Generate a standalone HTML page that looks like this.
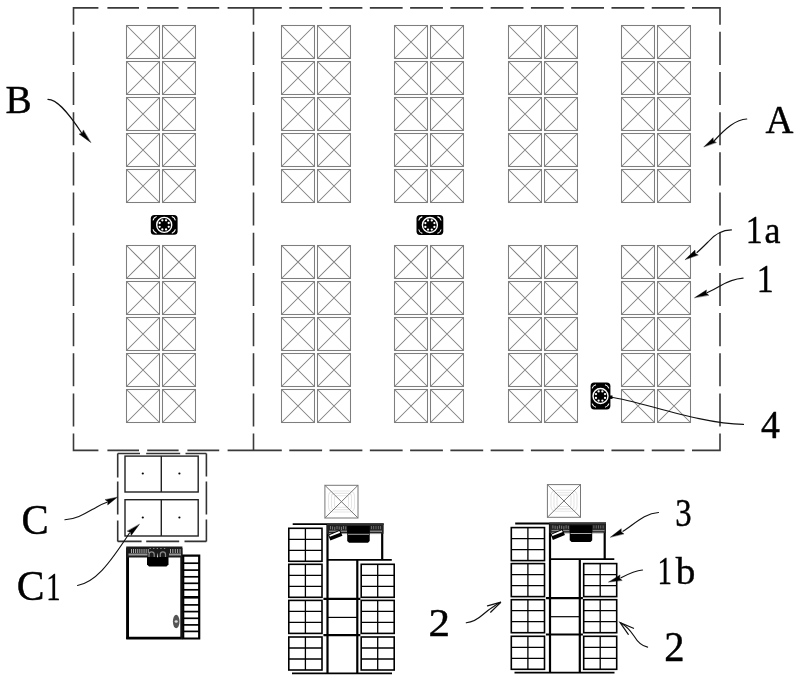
<!DOCTYPE html>
<html><head><meta charset="utf-8"><style>
html,body{margin:0;padding:0;background:#fff;}
body{width:800px;height:681px;overflow:hidden;font-family:"Liberation Serif",serif;}
svg{display:block;}
</style></head><body>
<svg width="800" height="681" viewBox="0 0 800 681">
<g fill="none" stroke="#7e7e7e" stroke-width="1.05">
<rect x="126.50" y="25.50" width="33" height="33"/>
<path d="M126.50 25.50L159.50 58.50M159.50 25.50L126.50 58.50"/>
<rect x="162.50" y="25.50" width="33" height="33"/>
<path d="M162.50 25.50L195.50 58.50M195.50 25.50L162.50 58.50"/>
<rect x="126.50" y="61.50" width="33" height="33"/>
<path d="M126.50 61.50L159.50 94.50M159.50 61.50L126.50 94.50"/>
<rect x="162.50" y="61.50" width="33" height="33"/>
<path d="M162.50 61.50L195.50 94.50M195.50 61.50L162.50 94.50"/>
<rect x="126.50" y="97.50" width="33" height="33"/>
<path d="M126.50 97.50L159.50 130.50M159.50 97.50L126.50 130.50"/>
<rect x="162.50" y="97.50" width="33" height="33"/>
<path d="M162.50 97.50L195.50 130.50M195.50 97.50L162.50 130.50"/>
<rect x="126.50" y="133.50" width="33" height="33"/>
<path d="M126.50 133.50L159.50 166.50M159.50 133.50L126.50 166.50"/>
<rect x="162.50" y="133.50" width="33" height="33"/>
<path d="M162.50 133.50L195.50 166.50M195.50 133.50L162.50 166.50"/>
<rect x="126.50" y="169.50" width="33" height="33"/>
<path d="M126.50 169.50L159.50 202.50M159.50 169.50L126.50 202.50"/>
<rect x="162.50" y="169.50" width="33" height="33"/>
<path d="M162.50 169.50L195.50 202.50M195.50 169.50L162.50 202.50"/>
<rect x="126.50" y="245.50" width="33" height="33"/>
<path d="M126.50 245.50L159.50 278.50M159.50 245.50L126.50 278.50"/>
<rect x="162.50" y="245.50" width="33" height="33"/>
<path d="M162.50 245.50L195.50 278.50M195.50 245.50L162.50 278.50"/>
<rect x="126.50" y="281.50" width="33" height="33"/>
<path d="M126.50 281.50L159.50 314.50M159.50 281.50L126.50 314.50"/>
<rect x="162.50" y="281.50" width="33" height="33"/>
<path d="M162.50 281.50L195.50 314.50M195.50 281.50L162.50 314.50"/>
<rect x="126.50" y="317.50" width="33" height="33"/>
<path d="M126.50 317.50L159.50 350.50M159.50 317.50L126.50 350.50"/>
<rect x="162.50" y="317.50" width="33" height="33"/>
<path d="M162.50 317.50L195.50 350.50M195.50 317.50L162.50 350.50"/>
<rect x="126.50" y="353.50" width="33" height="33"/>
<path d="M126.50 353.50L159.50 386.50M159.50 353.50L126.50 386.50"/>
<rect x="162.50" y="353.50" width="33" height="33"/>
<path d="M162.50 353.50L195.50 386.50M195.50 353.50L162.50 386.50"/>
<rect x="126.50" y="389.50" width="33" height="33"/>
<path d="M126.50 389.50L159.50 422.50M159.50 389.50L126.50 422.50"/>
<rect x="162.50" y="389.50" width="33" height="33"/>
<path d="M162.50 389.50L195.50 422.50M195.50 389.50L162.50 422.50"/>
<rect x="281.50" y="25.50" width="33" height="33"/>
<path d="M281.50 25.50L314.50 58.50M314.50 25.50L281.50 58.50"/>
<rect x="317.50" y="25.50" width="33" height="33"/>
<path d="M317.50 25.50L350.50 58.50M350.50 25.50L317.50 58.50"/>
<rect x="281.50" y="61.50" width="33" height="33"/>
<path d="M281.50 61.50L314.50 94.50M314.50 61.50L281.50 94.50"/>
<rect x="317.50" y="61.50" width="33" height="33"/>
<path d="M317.50 61.50L350.50 94.50M350.50 61.50L317.50 94.50"/>
<rect x="281.50" y="97.50" width="33" height="33"/>
<path d="M281.50 97.50L314.50 130.50M314.50 97.50L281.50 130.50"/>
<rect x="317.50" y="97.50" width="33" height="33"/>
<path d="M317.50 97.50L350.50 130.50M350.50 97.50L317.50 130.50"/>
<rect x="281.50" y="133.50" width="33" height="33"/>
<path d="M281.50 133.50L314.50 166.50M314.50 133.50L281.50 166.50"/>
<rect x="317.50" y="133.50" width="33" height="33"/>
<path d="M317.50 133.50L350.50 166.50M350.50 133.50L317.50 166.50"/>
<rect x="281.50" y="169.50" width="33" height="33"/>
<path d="M281.50 169.50L314.50 202.50M314.50 169.50L281.50 202.50"/>
<rect x="317.50" y="169.50" width="33" height="33"/>
<path d="M317.50 169.50L350.50 202.50M350.50 169.50L317.50 202.50"/>
<rect x="281.50" y="245.50" width="33" height="33"/>
<path d="M281.50 245.50L314.50 278.50M314.50 245.50L281.50 278.50"/>
<rect x="317.50" y="245.50" width="33" height="33"/>
<path d="M317.50 245.50L350.50 278.50M350.50 245.50L317.50 278.50"/>
<rect x="281.50" y="281.50" width="33" height="33"/>
<path d="M281.50 281.50L314.50 314.50M314.50 281.50L281.50 314.50"/>
<rect x="317.50" y="281.50" width="33" height="33"/>
<path d="M317.50 281.50L350.50 314.50M350.50 281.50L317.50 314.50"/>
<rect x="281.50" y="317.50" width="33" height="33"/>
<path d="M281.50 317.50L314.50 350.50M314.50 317.50L281.50 350.50"/>
<rect x="317.50" y="317.50" width="33" height="33"/>
<path d="M317.50 317.50L350.50 350.50M350.50 317.50L317.50 350.50"/>
<rect x="281.50" y="353.50" width="33" height="33"/>
<path d="M281.50 353.50L314.50 386.50M314.50 353.50L281.50 386.50"/>
<rect x="317.50" y="353.50" width="33" height="33"/>
<path d="M317.50 353.50L350.50 386.50M350.50 353.50L317.50 386.50"/>
<rect x="281.50" y="389.50" width="33" height="33"/>
<path d="M281.50 389.50L314.50 422.50M314.50 389.50L281.50 422.50"/>
<rect x="317.50" y="389.50" width="33" height="33"/>
<path d="M317.50 389.50L350.50 422.50M350.50 389.50L317.50 422.50"/>
<rect x="394.50" y="25.50" width="33" height="33"/>
<path d="M394.50 25.50L427.50 58.50M427.50 25.50L394.50 58.50"/>
<rect x="430.50" y="25.50" width="33" height="33"/>
<path d="M430.50 25.50L463.50 58.50M463.50 25.50L430.50 58.50"/>
<rect x="394.50" y="61.50" width="33" height="33"/>
<path d="M394.50 61.50L427.50 94.50M427.50 61.50L394.50 94.50"/>
<rect x="430.50" y="61.50" width="33" height="33"/>
<path d="M430.50 61.50L463.50 94.50M463.50 61.50L430.50 94.50"/>
<rect x="394.50" y="97.50" width="33" height="33"/>
<path d="M394.50 97.50L427.50 130.50M427.50 97.50L394.50 130.50"/>
<rect x="430.50" y="97.50" width="33" height="33"/>
<path d="M430.50 97.50L463.50 130.50M463.50 97.50L430.50 130.50"/>
<rect x="394.50" y="133.50" width="33" height="33"/>
<path d="M394.50 133.50L427.50 166.50M427.50 133.50L394.50 166.50"/>
<rect x="430.50" y="133.50" width="33" height="33"/>
<path d="M430.50 133.50L463.50 166.50M463.50 133.50L430.50 166.50"/>
<rect x="394.50" y="169.50" width="33" height="33"/>
<path d="M394.50 169.50L427.50 202.50M427.50 169.50L394.50 202.50"/>
<rect x="430.50" y="169.50" width="33" height="33"/>
<path d="M430.50 169.50L463.50 202.50M463.50 169.50L430.50 202.50"/>
<rect x="394.50" y="245.50" width="33" height="33"/>
<path d="M394.50 245.50L427.50 278.50M427.50 245.50L394.50 278.50"/>
<rect x="430.50" y="245.50" width="33" height="33"/>
<path d="M430.50 245.50L463.50 278.50M463.50 245.50L430.50 278.50"/>
<rect x="394.50" y="281.50" width="33" height="33"/>
<path d="M394.50 281.50L427.50 314.50M427.50 281.50L394.50 314.50"/>
<rect x="430.50" y="281.50" width="33" height="33"/>
<path d="M430.50 281.50L463.50 314.50M463.50 281.50L430.50 314.50"/>
<rect x="394.50" y="317.50" width="33" height="33"/>
<path d="M394.50 317.50L427.50 350.50M427.50 317.50L394.50 350.50"/>
<rect x="430.50" y="317.50" width="33" height="33"/>
<path d="M430.50 317.50L463.50 350.50M463.50 317.50L430.50 350.50"/>
<rect x="394.50" y="353.50" width="33" height="33"/>
<path d="M394.50 353.50L427.50 386.50M427.50 353.50L394.50 386.50"/>
<rect x="430.50" y="353.50" width="33" height="33"/>
<path d="M430.50 353.50L463.50 386.50M463.50 353.50L430.50 386.50"/>
<rect x="394.50" y="389.50" width="33" height="33"/>
<path d="M394.50 389.50L427.50 422.50M427.50 389.50L394.50 422.50"/>
<rect x="430.50" y="389.50" width="33" height="33"/>
<path d="M430.50 389.50L463.50 422.50M463.50 389.50L430.50 422.50"/>
<rect x="508.50" y="25.50" width="33" height="33"/>
<path d="M508.50 25.50L541.50 58.50M541.50 25.50L508.50 58.50"/>
<rect x="544.50" y="25.50" width="33" height="33"/>
<path d="M544.50 25.50L577.50 58.50M577.50 25.50L544.50 58.50"/>
<rect x="508.50" y="61.50" width="33" height="33"/>
<path d="M508.50 61.50L541.50 94.50M541.50 61.50L508.50 94.50"/>
<rect x="544.50" y="61.50" width="33" height="33"/>
<path d="M544.50 61.50L577.50 94.50M577.50 61.50L544.50 94.50"/>
<rect x="508.50" y="97.50" width="33" height="33"/>
<path d="M508.50 97.50L541.50 130.50M541.50 97.50L508.50 130.50"/>
<rect x="544.50" y="97.50" width="33" height="33"/>
<path d="M544.50 97.50L577.50 130.50M577.50 97.50L544.50 130.50"/>
<rect x="508.50" y="133.50" width="33" height="33"/>
<path d="M508.50 133.50L541.50 166.50M541.50 133.50L508.50 166.50"/>
<rect x="544.50" y="133.50" width="33" height="33"/>
<path d="M544.50 133.50L577.50 166.50M577.50 133.50L544.50 166.50"/>
<rect x="508.50" y="169.50" width="33" height="33"/>
<path d="M508.50 169.50L541.50 202.50M541.50 169.50L508.50 202.50"/>
<rect x="544.50" y="169.50" width="33" height="33"/>
<path d="M544.50 169.50L577.50 202.50M577.50 169.50L544.50 202.50"/>
<rect x="508.50" y="245.50" width="33" height="33"/>
<path d="M508.50 245.50L541.50 278.50M541.50 245.50L508.50 278.50"/>
<rect x="544.50" y="245.50" width="33" height="33"/>
<path d="M544.50 245.50L577.50 278.50M577.50 245.50L544.50 278.50"/>
<rect x="508.50" y="281.50" width="33" height="33"/>
<path d="M508.50 281.50L541.50 314.50M541.50 281.50L508.50 314.50"/>
<rect x="544.50" y="281.50" width="33" height="33"/>
<path d="M544.50 281.50L577.50 314.50M577.50 281.50L544.50 314.50"/>
<rect x="508.50" y="317.50" width="33" height="33"/>
<path d="M508.50 317.50L541.50 350.50M541.50 317.50L508.50 350.50"/>
<rect x="544.50" y="317.50" width="33" height="33"/>
<path d="M544.50 317.50L577.50 350.50M577.50 317.50L544.50 350.50"/>
<rect x="508.50" y="353.50" width="33" height="33"/>
<path d="M508.50 353.50L541.50 386.50M541.50 353.50L508.50 386.50"/>
<rect x="544.50" y="353.50" width="33" height="33"/>
<path d="M544.50 353.50L577.50 386.50M577.50 353.50L544.50 386.50"/>
<rect x="508.50" y="389.50" width="33" height="33"/>
<path d="M508.50 389.50L541.50 422.50M541.50 389.50L508.50 422.50"/>
<rect x="544.50" y="389.50" width="33" height="33"/>
<path d="M544.50 389.50L577.50 422.50M577.50 389.50L544.50 422.50"/>
<rect x="621.50" y="25.50" width="33" height="33"/>
<path d="M621.50 25.50L654.50 58.50M654.50 25.50L621.50 58.50"/>
<rect x="657.50" y="25.50" width="33" height="33"/>
<path d="M657.50 25.50L690.50 58.50M690.50 25.50L657.50 58.50"/>
<rect x="621.50" y="61.50" width="33" height="33"/>
<path d="M621.50 61.50L654.50 94.50M654.50 61.50L621.50 94.50"/>
<rect x="657.50" y="61.50" width="33" height="33"/>
<path d="M657.50 61.50L690.50 94.50M690.50 61.50L657.50 94.50"/>
<rect x="621.50" y="97.50" width="33" height="33"/>
<path d="M621.50 97.50L654.50 130.50M654.50 97.50L621.50 130.50"/>
<rect x="657.50" y="97.50" width="33" height="33"/>
<path d="M657.50 97.50L690.50 130.50M690.50 97.50L657.50 130.50"/>
<rect x="621.50" y="133.50" width="33" height="33"/>
<path d="M621.50 133.50L654.50 166.50M654.50 133.50L621.50 166.50"/>
<rect x="657.50" y="133.50" width="33" height="33"/>
<path d="M657.50 133.50L690.50 166.50M690.50 133.50L657.50 166.50"/>
<rect x="621.50" y="169.50" width="33" height="33"/>
<path d="M621.50 169.50L654.50 202.50M654.50 169.50L621.50 202.50"/>
<rect x="657.50" y="169.50" width="33" height="33"/>
<path d="M657.50 169.50L690.50 202.50M690.50 169.50L657.50 202.50"/>
<rect x="621.50" y="245.50" width="33" height="33"/>
<path d="M621.50 245.50L654.50 278.50M654.50 245.50L621.50 278.50"/>
<rect x="657.50" y="245.50" width="33" height="33"/>
<path d="M657.50 245.50L690.50 278.50M690.50 245.50L657.50 278.50"/>
<rect x="621.50" y="281.50" width="33" height="33"/>
<path d="M621.50 281.50L654.50 314.50M654.50 281.50L621.50 314.50"/>
<rect x="657.50" y="281.50" width="33" height="33"/>
<path d="M657.50 281.50L690.50 314.50M690.50 281.50L657.50 314.50"/>
<rect x="621.50" y="317.50" width="33" height="33"/>
<path d="M621.50 317.50L654.50 350.50M654.50 317.50L621.50 350.50"/>
<rect x="657.50" y="317.50" width="33" height="33"/>
<path d="M657.50 317.50L690.50 350.50M690.50 317.50L657.50 350.50"/>
<rect x="621.50" y="353.50" width="33" height="33"/>
<path d="M621.50 353.50L654.50 386.50M654.50 353.50L621.50 386.50"/>
<rect x="657.50" y="353.50" width="33" height="33"/>
<path d="M657.50 353.50L690.50 386.50M690.50 353.50L657.50 386.50"/>
<rect x="621.50" y="389.50" width="33" height="33"/>
<path d="M621.50 389.50L654.50 422.50M654.50 389.50L621.50 422.50"/>
<rect x="657.50" y="389.50" width="33" height="33"/>
<path d="M657.50 389.50L690.50 422.50M690.50 389.50L657.50 422.50"/>
</g>
<path fill="none" stroke="#3a3a3a" stroke-width="1.6" d="M73.50 7.9H98.40M107.40 7.9H139.00M147.20 7.9H178.60M187.40 7.9H219.20M227.60 7.9H281.80M289.30 7.9H322.10M329.57 7.9H362.37M369.84 7.9H402.64M410.11 7.9H442.91M450.38 7.9H483.18M490.65 7.9H523.45M530.92 7.9H563.72M571.19 7.9H603.99M611.46 7.9H644.26M651.73 7.9H684.53M692.00 7.9H720.60M73.50 450.4H98.40M107.40 450.4H139.00M147.20 450.4H178.60M187.40 450.4H219.20M227.60 450.4H281.80M289.30 450.4H322.10M329.57 450.4H362.37M369.84 450.4H402.64M410.11 450.4H442.91M450.38 450.4H483.18M490.65 450.4H523.45M530.92 450.4H563.72M571.19 450.4H603.99M611.46 450.4H644.26M651.73 450.4H684.53M692.00 450.4H720.60M73.5 7.10V24.70M73.5 31.80V64.90M73.5 71.98V105.08M73.5 112.16V145.26M73.5 152.34V185.44M73.5 192.52V225.62M73.5 232.70V265.80M73.5 272.88V305.98M73.5 313.06V346.16M73.5 353.24V386.34M73.5 393.42V426.52M73.5 433.60V451.20M720 7.10V24.70M720 31.80V64.90M720 71.98V105.08M720 112.16V145.26M720 152.34V185.44M720 192.52V225.62M720 232.70V265.80M720 272.88V305.98M720 313.06V346.16M720 353.24V386.34M720 393.42V426.52M720 433.60V451.20M253.5 7.10V24.70M253.5 31.80V64.90M253.5 71.98V105.08M253.5 112.16V145.26M253.5 152.34V185.44M253.5 192.52V225.62M253.5 232.70V265.80M253.5 272.88V305.98M253.5 313.06V346.16M253.5 353.24V386.34M253.5 393.42V426.52M253.5 433.60V451.20"/>
<g transform="translate(164.2 224.9) rotate(0)"><rect x="-13.4" y="-9.9" width="26.8" height="19.8" rx="3.6" fill="#000"/><circle r="7.5" fill="none" stroke="#fff" stroke-width="1.4"/><circle cx="4.53" cy="1.88" r="1.15" fill="#fff"/><circle cx="1.88" cy="4.53" r="1.15" fill="#fff"/><circle cx="-1.88" cy="4.53" r="1.15" fill="#fff"/><circle cx="-4.53" cy="1.88" r="1.15" fill="#fff"/><circle cx="-4.53" cy="-1.88" r="1.15" fill="#fff"/><circle cx="-1.88" cy="-4.53" r="1.15" fill="#fff"/><circle cx="1.88" cy="-4.53" r="1.15" fill="#fff"/><circle cx="4.53" cy="-1.88" r="1.15" fill="#fff"/><path d="M-11.2 -4.5Q-10.5 -7.5 -7.6 -8.4M11.2 -4.5Q10.5 -7.5 7.6 -8.4M-11.2 4.5Q-10.5 7.5 -7.6 8.4M11.2 4.5Q10.5 7.5 7.6 8.4" fill="none" stroke="#fff" stroke-width="1.1"/></g>
<g transform="translate(429.9 225.0) rotate(0)"><rect x="-13.4" y="-9.9" width="26.8" height="19.8" rx="3.6" fill="#000"/><circle r="7.5" fill="none" stroke="#fff" stroke-width="1.4"/><circle cx="4.53" cy="1.88" r="1.15" fill="#fff"/><circle cx="1.88" cy="4.53" r="1.15" fill="#fff"/><circle cx="-1.88" cy="4.53" r="1.15" fill="#fff"/><circle cx="-4.53" cy="1.88" r="1.15" fill="#fff"/><circle cx="-4.53" cy="-1.88" r="1.15" fill="#fff"/><circle cx="-1.88" cy="-4.53" r="1.15" fill="#fff"/><circle cx="1.88" cy="-4.53" r="1.15" fill="#fff"/><circle cx="4.53" cy="-1.88" r="1.15" fill="#fff"/><path d="M-11.2 -4.5Q-10.5 -7.5 -7.6 -8.4M11.2 -4.5Q10.5 -7.5 7.6 -8.4M-11.2 4.5Q-10.5 7.5 -7.6 8.4M11.2 4.5Q10.5 7.5 7.6 8.4" fill="none" stroke="#fff" stroke-width="1.1"/></g>
<g transform="translate(600.5 396) rotate(90)"><rect x="-13.4" y="-9.9" width="26.8" height="19.8" rx="3.6" fill="#000"/><circle r="7.5" fill="none" stroke="#fff" stroke-width="1.4"/><circle cx="4.53" cy="1.88" r="1.15" fill="#fff"/><circle cx="1.88" cy="4.53" r="1.15" fill="#fff"/><circle cx="-1.88" cy="4.53" r="1.15" fill="#fff"/><circle cx="-4.53" cy="1.88" r="1.15" fill="#fff"/><circle cx="-4.53" cy="-1.88" r="1.15" fill="#fff"/><circle cx="-1.88" cy="-4.53" r="1.15" fill="#fff"/><circle cx="1.88" cy="-4.53" r="1.15" fill="#fff"/><circle cx="4.53" cy="-1.88" r="1.15" fill="#fff"/><path d="M-11.2 -4.5Q-10.5 -7.5 -7.6 -8.4M11.2 -4.5Q10.5 -7.5 7.6 -8.4M-11.2 4.5Q-10.5 7.5 -7.6 8.4M11.2 4.5Q10.5 7.5 7.6 8.4" fill="none" stroke="#fff" stroke-width="1.1"/></g>
<g fill="none" stroke="#333" stroke-width="1.6">
<path d="M117.7 453.5H206.4" stroke-dasharray="22.3 6.2 34 5.3 30"/>
<path d="M117.7 541.4H206.4" stroke-dasharray="23.9 4.6 33 5.3 30"/>
<path d="M117.7 453.5V541.4" stroke-dasharray="24 4 33 6 30"/>
<path d="M206.4 453.5V541.4" stroke-dasharray="23 5 33 5 30"/>
</g>
<g fill="none" stroke="#222" stroke-width="1.4">
<rect x="125" y="456.1" width="73.2" height="35.9"/>
<path d="M161.3 456.1V492"/>
<rect x="125" y="499.7" width="73.2" height="36.3"/>
<path d="M161.3 499.7V536"/>
</g>
<circle cx="142.8" cy="473.5" r="1.1" fill="#000"/>
<circle cx="179.4" cy="473.5" r="1.1" fill="#000"/>
<circle cx="142.8" cy="517.5" r="1.1" fill="#000"/>
<circle cx="179.4" cy="517.5" r="1.1" fill="#000"/>
<g>
<rect x="127.3" y="552" width="54" height="86" fill="none" stroke="#000" stroke-width="1.6"/>
<path d="M127.6 548V639" stroke="#000" stroke-width="2.8" fill="none"/>
<path d="M126.2 638.1H182.4" stroke="#000" stroke-width="2.8" fill="none"/>
<path d="M181.5 548V639" stroke="#111" stroke-width="1.8" fill="none"/>
<rect x="126.2" y="546.5" width="56.2" height="11" fill="#1a1a1a"/>
<rect x="131.00" y="549" width="0.9" height="4" fill="#bbb"/>
<rect x="133.10" y="549" width="0.9" height="4" fill="#bbb"/>
<rect x="135.20" y="549" width="0.9" height="4" fill="#bbb"/>
<rect x="137.30" y="549" width="0.9" height="4" fill="#bbb"/>
<rect x="139.40" y="549" width="0.9" height="4" fill="#bbb"/>
<rect x="141.50" y="549" width="0.9" height="4" fill="#bbb"/>
<rect x="143.60" y="549" width="0.9" height="4" fill="#bbb"/>
<rect x="145.70" y="549" width="0.9" height="4" fill="#bbb"/>
<rect x="147.80" y="549" width="0.9" height="4" fill="#bbb"/>
<rect x="170.00" y="549" width="0.9" height="4" fill="#bbb"/>
<rect x="172.40" y="549" width="0.9" height="4" fill="#bbb"/>
<rect x="174.80" y="549" width="0.9" height="4" fill="#bbb"/>
<rect x="177.20" y="549" width="0.9" height="4" fill="#bbb"/>
<rect x="179.60" y="549" width="0.9" height="4" fill="#bbb"/>
<rect x="128.5" y="553.5" width="19" height="2" fill="#999"/>
<rect x="169" y="553.5" width="12" height="2" fill="#999"/>
<path d="M147 557H168.5V564.5L166.5 566.5H149L147 564.5Z" fill="#000"/>
<path d="M149 557V554.5A2.6 2.6 0 0 1 154.2 554.5V557M160.3 557V554.5A2.6 2.6 0 0 1 165.5 554.5V557" fill="none" stroke="#8a8a8a" stroke-width="1.2"/>
<path d="M157.1 557.3L157.6 552.5L158.1 557.3Z" fill="#fff"/>
<rect x="149.50" y="548" width="1.3" height="0.9" fill="#999"/>
<rect x="153.10" y="548" width="1.3" height="0.9" fill="#999"/>
<rect x="156.70" y="548" width="1.3" height="0.9" fill="#999"/>
<rect x="160.30" y="548" width="1.3" height="0.9" fill="#999"/>
<rect x="163.90" y="548" width="1.3" height="0.9" fill="#999"/>
<path d="M183.2 555.6H199.2V638.5H183.2Z" fill="none" stroke="#000" stroke-width="2.2"/>
<path d="M182.4 563.2H199" stroke="#000" stroke-width="1.7"/>
<path d="M182.4 570.1H199" stroke="#000" stroke-width="1.7"/>
<path d="M182.4 576.8H199" stroke="#000" stroke-width="1.7"/>
<path d="M182.4 583.3H199" stroke="#000" stroke-width="1.7"/>
<path d="M182.4 589.8H199" stroke="#000" stroke-width="1.7"/>
<path d="M182.4 604.9H199" stroke="#000" stroke-width="1.7"/>
<path d="M182.4 611.6H199" stroke="#000" stroke-width="1.7"/>
<path d="M182.4 618.3H199" stroke="#000" stroke-width="1.7"/>
<path d="M182.4 624.9H199" stroke="#000" stroke-width="1.7"/>
<path d="M182.4 631.4H199" stroke="#000" stroke-width="1.7"/>
<path d="M182.4 597.3H199.9" stroke="#000" stroke-width="2.6"/>
<ellipse cx="176.2" cy="621.5" rx="3.3" ry="6.8" fill="#555"/>
<ellipse cx="176.2" cy="621.5" rx="1.6" ry="1.2" fill="#ddd"/>
</g>
<g transform="translate(0 0)">
<g fill="none" stroke="#e6e6e6" stroke-width="1.1">
<rect x="328.50" y="491.00" width="26" height="21.00" rx="5.00"/>
<rect x="331.50" y="493.40" width="20" height="16.20" rx="3.20"/>
<rect x="334.50" y="495.80" width="14" height="11.40" rx="1.40"/>
</g>
<g fill="none" stroke="#777" stroke-width="1">
<rect x="324.90" y="485.3" width="33.1" height="32.7"/>
<path d="M324.90 485.3L358.00 518M358.00 485.3L324.90 518"/>
</g>
<g fill="none" stroke="#000" stroke-width="1.6">
<rect x="288.8" y="528.3" width="33.2" height="33.0"/><path stroke-width="1.3" d="M305.40 528.3V561.3M288.8 539.30H322.0M288.8 550.30H322.0"/>
<rect x="288.8" y="564.3" width="33.2" height="33.0"/><path stroke-width="1.3" d="M305.40 564.3V597.3M288.8 575.30H322.0M288.8 586.30H322.0"/>
<rect x="288.8" y="600.4" width="33.2" height="33.0"/><path stroke-width="1.3" d="M305.40 600.4V633.4M288.8 611.40H322.0M288.8 622.40H322.0"/>
<rect x="288.8" y="637.0" width="33.2" height="33.0"/><path stroke-width="1.3" d="M305.40 637.0V670.0M288.8 648.00H322.0M288.8 659.00H322.0"/>
<rect x="361.2" y="564.3" width="33.0" height="33.0"/><path stroke-width="1.3" d="M377.70 564.3V597.3M361.2 575.30H394.2M361.2 586.30H394.2"/>
<rect x="361.2" y="600.4" width="33.0" height="33.0"/><path stroke-width="1.3" d="M377.70 600.4V633.4M361.2 611.40H394.2M361.2 622.40H394.2"/>
<rect x="361.2" y="637.0" width="33.0" height="33.0"/><path stroke-width="1.3" d="M377.70 637.0V670.0M361.2 648.00H394.2M361.2 659.00H394.2"/>
</g>
<g fill="none" stroke="#000">
<path d="M292.70 524.2H383.50" stroke-width="1.8"/>
<path d="M327.50 524V673" stroke-width="2.2"/>
<path d="M382.20 524V560" stroke-width="2.2"/>
<path d="M327.00 559.8H391.80" stroke-width="1.8"/>
<path d="M357.30 560V673" stroke-width="2.2"/>
<path d="M323.40 598.9H360.40" stroke-width="2.2"/>
<path d="M327.50 617.4H357.30" stroke-width="1.2"/>
<path d="M323.40 635.2H360.40" stroke-width="2.2"/>
<path d="M292.00 673.3H392.00" stroke-width="1.8"/>
</g>
<rect x="327.00" y="523.4" width="56.5" height="10.4" fill="#222"/>
<rect x="327.00" y="523.2" width="56.5" height="1.2" fill="#444"/>
<rect x="330.00" y="526.00" width="0.8" height="3.2" fill="#8a8a8a"/>
<rect x="332.20" y="526.40" width="0.8" height="3.2" fill="#8a8a8a"/>
<rect x="334.40" y="526.80" width="0.8" height="3.2" fill="#8a8a8a"/>
<rect x="336.60" y="526.00" width="0.8" height="3.2" fill="#8a8a8a"/>
<rect x="338.80" y="526.40" width="0.8" height="3.2" fill="#8a8a8a"/>
<rect x="341.00" y="526.80" width="0.8" height="3.2" fill="#8a8a8a"/>
<rect x="343.20" y="526.00" width="0.8" height="3.2" fill="#8a8a8a"/>
<rect x="345.40" y="526.40" width="0.8" height="3.2" fill="#8a8a8a"/>
<rect x="371.00" y="526" width="0.8" height="3.2" fill="#777"/>
<rect x="373.30" y="526" width="0.8" height="3.2" fill="#777"/>
<rect x="375.60" y="526" width="0.8" height="3.2" fill="#777"/>
<rect x="377.90" y="526" width="0.8" height="3.2" fill="#777"/>
<rect x="380.20" y="526" width="0.8" height="3.2" fill="#777"/>
<rect x="329" y="530.6" width="18" height="1.3" fill="#888"/>
<rect x="370" y="530.6" width="12" height="1.3" fill="#888"/>
<rect x="329" y="533.2" width="52" height="0.9" fill="#aaa"/>
<path d="M347.20 526H369.70V541L368.00 542.8H349.00L347.20 541Z" fill="#000"/>
<rect x="348.00" y="533.8" width="21" height="0.9" fill="#bbb"/>
<g transform="translate(335.20 535.2) rotate(-22)"><rect x="-6.5" y="-3.2" width="13" height="6.4" fill="#000"/><rect x="-5.5" y="-2.3" width="11" height="1.8" fill="#fff"/></g>
</g>
<g transform="translate(0 -0.7)">
<g fill="none" stroke="#e6e6e6" stroke-width="1.1">
<rect x="551.00" y="491.00" width="26" height="21.00" rx="5.00"/>
<rect x="554.00" y="493.40" width="20" height="16.20" rx="3.20"/>
<rect x="557.00" y="495.80" width="14" height="11.40" rx="1.40"/>
</g>
<g fill="none" stroke="#777" stroke-width="1">
<rect x="547.40" y="485.3" width="33.1" height="32.7"/>
<path d="M547.40 485.3L580.50 518M580.50 485.3L547.40 518"/>
</g>
<g fill="none" stroke="#000" stroke-width="1.6">
<rect x="511.3" y="528.3" width="33.2" height="33.0"/><path stroke-width="1.3" d="M527.90 528.3V561.3M511.3 539.30H544.5M511.3 550.30H544.5"/>
<rect x="511.3" y="564.3" width="33.2" height="33.0"/><path stroke-width="1.3" d="M527.90 564.3V597.3M511.3 575.30H544.5M511.3 586.30H544.5"/>
<rect x="511.3" y="600.4" width="33.2" height="33.0"/><path stroke-width="1.3" d="M527.90 600.4V633.4M511.3 611.40H544.5M511.3 622.40H544.5"/>
<rect x="511.3" y="637.0" width="33.2" height="33.0"/><path stroke-width="1.3" d="M527.90 637.0V670.0M511.3 648.00H544.5M511.3 659.00H544.5"/>
<rect x="583.7" y="564.3" width="33.0" height="33.0"/><path stroke-width="1.3" d="M600.20 564.3V597.3M583.7 575.30H616.7M583.7 586.30H616.7"/>
<rect x="583.7" y="600.4" width="33.0" height="33.0"/><path stroke-width="1.3" d="M600.20 600.4V633.4M583.7 611.40H616.7M583.7 622.40H616.7"/>
<rect x="583.7" y="637.0" width="33.0" height="33.0"/><path stroke-width="1.3" d="M600.20 637.0V670.0M583.7 648.00H616.7M583.7 659.00H616.7"/>
</g>
<g fill="none" stroke="#000">
<path d="M515.20 524.2H606.00" stroke-width="1.8"/>
<path d="M550.00 524V673" stroke-width="2.2"/>
<path d="M604.70 524V560" stroke-width="2.2"/>
<path d="M549.50 559.8H614.30" stroke-width="1.8"/>
<path d="M579.80 560V673" stroke-width="2.2"/>
<path d="M545.90 598.9H582.90" stroke-width="2.2"/>
<path d="M550.00 617.4H579.80" stroke-width="1.2"/>
<path d="M545.90 635.2H582.90" stroke-width="2.2"/>
<path d="M514.50 673.3H614.50" stroke-width="1.8"/>
</g>
<rect x="549.50" y="523.4" width="56.5" height="10.4" fill="#222"/>
<rect x="549.50" y="523.2" width="56.5" height="1.2" fill="#444"/>
<rect x="552.50" y="526.00" width="0.8" height="3.2" fill="#8a8a8a"/>
<rect x="554.70" y="526.40" width="0.8" height="3.2" fill="#8a8a8a"/>
<rect x="556.90" y="526.80" width="0.8" height="3.2" fill="#8a8a8a"/>
<rect x="559.10" y="526.00" width="0.8" height="3.2" fill="#8a8a8a"/>
<rect x="561.30" y="526.40" width="0.8" height="3.2" fill="#8a8a8a"/>
<rect x="563.50" y="526.80" width="0.8" height="3.2" fill="#8a8a8a"/>
<rect x="565.70" y="526.00" width="0.8" height="3.2" fill="#8a8a8a"/>
<rect x="567.90" y="526.40" width="0.8" height="3.2" fill="#8a8a8a"/>
<rect x="593.50" y="526" width="0.8" height="3.2" fill="#777"/>
<rect x="595.80" y="526" width="0.8" height="3.2" fill="#777"/>
<rect x="598.10" y="526" width="0.8" height="3.2" fill="#777"/>
<rect x="600.40" y="526" width="0.8" height="3.2" fill="#777"/>
<rect x="602.70" y="526" width="0.8" height="3.2" fill="#777"/>
<rect x="551.5" y="530.6" width="18" height="1.3" fill="#888"/>
<rect x="592.5" y="530.6" width="12" height="1.3" fill="#888"/>
<rect x="551.5" y="533.2" width="52" height="0.9" fill="#aaa"/>
<path d="M569.70 526H592.20V541L590.50 542.8H571.50L569.70 541Z" fill="#000"/>
<rect x="570.50" y="533.8" width="21" height="0.9" fill="#bbb"/>
<g transform="translate(557.70 535.2) rotate(-22)"><rect x="-6.5" y="-3.2" width="13" height="6.4" fill="#000"/><rect x="-5.5" y="-2.3" width="11" height="1.8" fill="#fff"/></g>
</g>
<g font-family="Liberation Serif, serif" font-size="40" fill="#000" stroke="#000" stroke-width="0.45" opacity="0.999">
<text transform="translate(5.62 112.5) scale(0.983 0.985)">B</text>
<text transform="translate(765.4 132.5) scale(0.966 1.008)">A</text>
<text transform="translate(745.63 243.3) scale(0.843 1.012)">1</text>
<text transform="translate(764.6 243.3) scale(0.9 0.968)">a</text>
<text transform="translate(756.83 291.6) scale(0.843 1.012)">1</text>
<text transform="translate(761.06 437.6) scale(0.944 1.012)">4</text>
<text transform="translate(21.57 533.7) scale(1.017 1.054)">C</text>
<text transform="translate(16.72 599.7) scale(1.039 1.035)">C</text>
<text transform="translate(46.34 599.7) scale(0.714 1.019)">1</text>
<text transform="translate(675.16 526.1) scale(0.818 1.023)">3</text>
<text transform="translate(657.51 583.6) scale(0.721 1.0)">1</text>
<text transform="translate(675.67 584.0) scale(0.981 0.943)">b</text>
<text transform="translate(428.5 636.3) scale(1.075 1.025)">2</text>
<text transform="translate(664.18 660.7) scale(1.013 1.042)">2</text>
</g>
<g fill="none" stroke="#111" stroke-width="1.15" stroke-linecap="round">
<path d="M47.9 99.3C56 99.3 66 109 82 133.5"/>
<path d="M90.70 142.40L79.15 134.11L82.22 133.30L83.25 130.29Z" fill="#000" stroke="#000" stroke-width="0.4"/>
<path d="M746.75 119C736 119.5 726 128 714 141"/>
<path d="M704.00 146.75L713.10 137.64L713.33 140.81L716.10 142.36Z" fill="#000" stroke="#000" stroke-width="0.4"/>
<path d="M731.4 229.9C722 230 714 235 708 242C703 247 700 250 697 252.5"/>
<path d="M685.25 259.50L695.02 250.12L695.23 253.29L697.98 254.88Z" fill="#000" stroke="#000" stroke-width="0.4"/>
<path d="M743.1 278.1C733 279 725 283 720 286C714 289.5 711 291 707 292.8"/>
<path d="M694.75 297.60L706.46 289.90L706.11 293.06L708.54 295.10Z" fill="#000" stroke="#000" stroke-width="0.4"/>
<path d="M611.25 397.2C640 401 700 424 743.5 424.4"/>
<rect x="609.5" y="395.5" width="3" height="3.4" fill="#000" stroke="none"/>
<path d="M64.9 519.7C76 519.5 86 513 96 507.5C100 505 103 503.5 107 502.2"/>
<path d="M117.30 497.30L107.70 504.93L107.86 501.76L105.30 499.87Z" fill="#000" stroke="#000" stroke-width="0.4"/>
<path d="M77.5 585.5C95 582 108 566 129.5 533"/>
<path d="M139.30 524.40L131.16 535.39L130.42 532.30L127.44 531.21Z" fill="#000" stroke="#000" stroke-width="0.4"/>
<path d="M658.5 512.5C648 513 640 519 632 525C628 528 626 529.5 623 531.3"/>
<path d="M610.60 537.10L621.26 528.69L621.16 531.87L623.74 533.71Z" fill="#000" stroke="#000" stroke-width="0.4"/>
<path d="M642.5 570C636 570.5 630 573 621 577.8"/>
<path d="M608.75 581.90L620.07 574.96L619.58 578.10L621.93 580.24Z" fill="#000" stroke="#000" stroke-width="0.4"/>
<path d="M466.25 622.8C474 622 478 619 483 614.5C488 610 494 606 500.5 602.3"/>
<path d="M487.50 605.90L500.90 602.20L490.60 612.20" fill="none" stroke-width="1.2"/>
<path d="M647.6 647.1C641 646 637 641 634 636C630 630 626 626 620.5 622.8"/>
<path d="M633.50 628.30L620.15 622.60L628.30 634.30" fill="none" stroke-width="1.2"/>
</g>
</svg>
</body></html>
